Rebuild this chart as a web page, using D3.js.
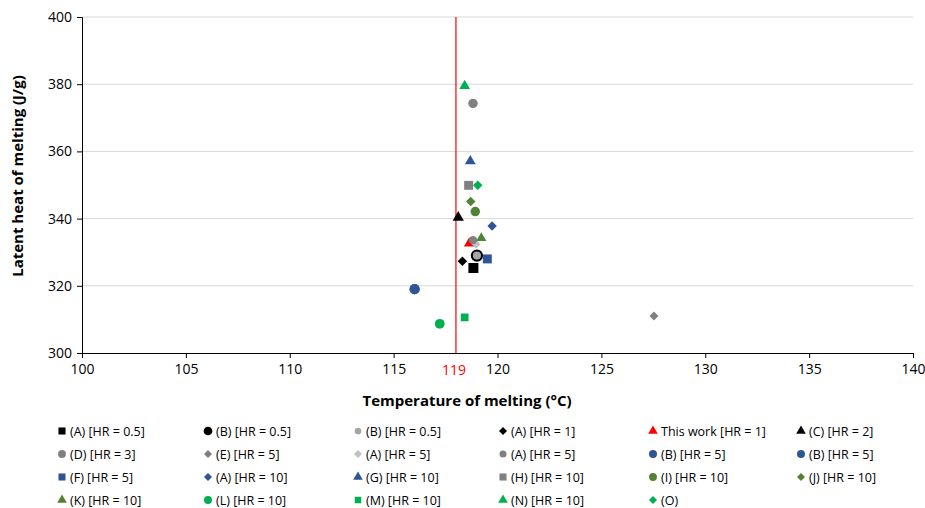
<!DOCTYPE html>
<html>
<head>
<meta charset="utf-8">
<script src="https://cdn.jsdelivr.net/npm/d3@7"></script>
<style>
  body { margin: 0; background: #fff; }
  svg { font-family: "Open Sans", "Liberation Sans", sans-serif; }
</style>
</head>
<body>
<svg id="chart" width="925" height="508"></svg>
<script>
// series: label, shape, colour, size, and the [temperature, latent heat] points
var seriesNames = ["(A) [HR = 0.5]", "(B) [HR = 0.5]", "(B) [HR = 0.5]", "(A) [HR = 1]", "This work [HR = 1]", "(C) [HR = 2]",
  "(D) [HR = 3]", "(E) [HR = 5]", "(A) [HR = 5]", "(A) [HR = 5]", "(B) [HR = 5]", "(B) [HR = 5]",
  "(F) [HR = 5]", "(A) [HR = 10]", "(G) [HR = 10]", "(H) [HR = 10]", "(I) [HR = 10]", "(J) [HR = 10]",
  "(K) [HR = 10]", "(L) [HR = 10]", "(M) [HR = 10]", "(N) [HR = 10]", "(O)"];
var seriesShapes = ["square", "ring", "circle", "diamond", "triangle", "triangle",
  "circle", "diamond", "diamond", "circle", "circle", "circle",
  "square", "diamond", "triangle", "square", "circle", "diamond",
  "triangle", "circle", "square", "triangle", "diamond"];
var seriesColors = ["#000000", "#000000", "#a5a5a5", "#000000", "#ff0000", "#000000",
  "#808080", "#808080", "#c0c0c0", "#808080", "#2f5597", "#2f5597",
  "#2f5597", "#2f5597", "#2f5597", "#808080", "#548235", "#548235",
  "#548235", "#00b050", "#00b050", "#00b050", "#00b050"];
var seriesSizes = [100, 100, 50, 45, 45, 55,
  70, 40, 40, 55, 80, 80,
  80, 45, 50, 80, 70, 45,
  45, 75, 60, 50, 45];
var temps = [118.84, 119.01, 119.01, 118.31, 118.63, 118.11,
  118.82, 127.53, 118.97, 118.82, 116.01, 116.01,
  119.51, 119.74, 118.69, 118.61, 118.93, 118.71,
  119.22, 117.22, 118.42, 118.42, 119.05];
var heats = [325.3, 329.0, 329.0, 327.3, 332.6, 340.3,
  374.3, 311.0, 332.4, 333.6, 319.0, 319.0,
  328.0, 337.8, 357.1, 349.9, 342.1, 345.1,
  334.2, 308.7, 310.6, 379.5, 349.9];

var xTicks = [100, 105, 110, 115, 120, 125, 130, 135, 140];
var yTicks = [300, 320, 340, 360, 380, 400];
var refLineX = 118;
var refLabel = "119";

var svg = d3.select("#chart");
var margin = {left: 82, right: 12, top: 17, bottom: 155};
var W = 925, H = 508;

var x = d3.scaleLinear().domain([100, 140]).range([margin.left, W - margin.right]);
var y = d3.scaleLinear().domain([300, 400]).range([H - margin.bottom, margin.top]);

// grid
svg.append("g").selectAll("line").data(yTicks.slice(1)).enter().append("line")
  .attr("x1", x(100)).attr("x2", x(140))
  .attr("y1", d => y(d)).attr("y2", d => y(d))
  .attr("stroke", "#d9d9d9").attr("stroke-width", 1);

var xAxis = svg.append("g").attr("transform", "translate(0," + y(300) + ")")
  .call(d3.axisBottom(x).tickValues(xTicks).tickSize(5).tickPadding(6));
var yAxis = svg.append("g").attr("transform", "translate(" + x(100) + ",0)")
  .call(d3.axisLeft(y).tickValues(yTicks).tickSize(5).tickPadding(5));
[xAxis, yAxis].forEach(function (g) {
  g.selectAll("text").attr("font-size", 14).attr("fill", "#000")
    .attr("font-family", "'Open Sans', sans-serif");
  g.selectAll("line, path").attr("stroke", "#000");
});

// reference line
svg.append("line")
  .attr("x1", x(refLineX)).attr("x2", x(refLineX))
  .attr("y1", y(400)).attr("y2", y(300))
  .attr("stroke", "#ff0000").attr("stroke-width", 1.2);
svg.append("text").attr("x", x(refLineX) - 2).attr("y", y(300) + 22)
  .attr("text-anchor", "middle").attr("font-size", 14)
  .attr("fill", "#ff0000").text(refLabel);

// axis titles
svg.append("text").attr("x", 467).attr("y", 406)
  .attr("text-anchor", "middle").attr("font-size", 15).attr("font-weight", "bold")
  .text("Temperature of melting (°C)");
svg.append("text").attr("transform", "translate(23,176) rotate(-90)")
  .attr("text-anchor", "middle").attr("font-size", 15).attr("font-weight", "bold")
  .text("Latent heat of melting (J/g)");

var shapeOf = {square: d3.symbolSquare, circle: d3.symbolCircle, ring: d3.symbolCircle,
  diamond: d3.symbolSquare, triangle: d3.symbolTriangle};

function drawMarker(g, i, size) {
  var s = seriesShapes[i];
  var p = g.append("path")
    .attr("d", d3.symbol().type(shapeOf[s]).size(size)())
    .attr("fill", seriesColors[i]);
  if (s === "diamond") p.attr("transform", "rotate(45)");
  if (s === "ring") {
    p.attr("fill", "none").attr("stroke", seriesColors[i]).attr("stroke-width", 2.5)
      .attr("d", d3.symbol().type(d3.symbolCircle).size(size * 0.75)());
  }
}

// points
var pts = svg.append("g");
seriesNames.forEach(function (n, i) {
  var g = pts.append("g").attr("transform", "translate(" + x(temps[i]) + "," + y(heats[i]) + ")");
  drawMarker(g, i, seriesSizes[i]);
});

// legend
var legX = [62, 208, 358, 503, 653, 801];
var legY = [431, 454, 477, 500];
seriesNames.forEach(function (n, i) {
  var cx = legX[i % 6], cy = legY[Math.floor(i / 6)];
  var g = svg.append("g").attr("transform", "translate(" + cx + "," + cy + ")");
  var sz = Math.min(50, seriesSizes[i] * 0.7);
  if (seriesShapes[i] === "ring") {
    g.append("path").attr("d", d3.symbol().type(d3.symbolCircle).size(60)()).attr("fill", "#000");
  } else {
    if (seriesShapes[i] === "diamond") sz = 32;
    if (seriesShapes[i] === "triangle") sz = 40;
    drawMarker(g, i, sz);
  }
  svg.append("text").attr("x", cx + 8).attr("y", cy + 4.5)
    .attr("font-size", 12.5).attr("fill", "#000").text(n);
});
</script>
</body>
</html>
